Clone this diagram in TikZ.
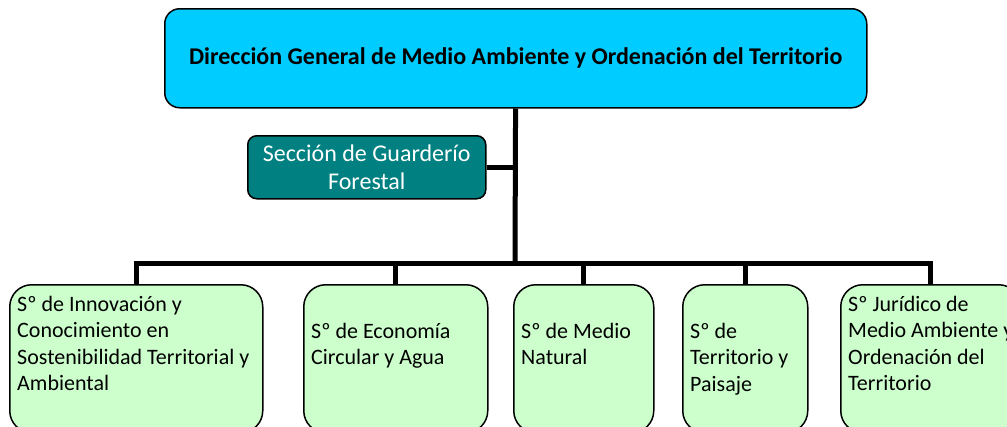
\documentclass[tikz,border=0pt]{standalone}
\usepackage{fontspec}
\setmainfont{Carlito}
\usepackage{xcolor}
\usetikzlibrary{positioning}
\definecolor{cldir}{HTML}{00CCFF}
\definecolor{clguard}{HTML}{008080}
\definecolor{clsec}{HTML}{CCFFCC}
\tikzstyle{dirblock} = [draw, line width=1.5pt, rectangle, rounded corners=15pt, fill=cldir, anchor=north west, minimum width=702pt, minimum height=99pt, font=\bfseries\fontsize{24}{28}\selectfont]
\tikzstyle{guardblock} = [draw, line width=1.5pt, rectangle, rounded corners=9pt, fill=clguard, text=white, anchor=north west, minimum width=238pt, minimum height=63pt, align=center, font=\fontsize{24}{28}\selectfont]
\tikzstyle{secblock} = [draw, line width=1.5pt, rectangle, rounded corners=22pt, fill=clsec, minimum height=148pt]
\tikzstyle{sectext} = [anchor=base west, align=left, inner sep=0pt, font=\fontsize{22}{26.5}\selectfont]
\tikzstyle{bar} = [draw, line width=5pt]

\begin{document}
\begin{tikzpicture}[x=1pt, y=-1pt]
    \useasboundingbox (0,0) rectangle (1007,426);
    \clip (0,0) rectangle (1007,426);

    \node [dirblock] (dg) at (164,8) {Dirección General de Medio Ambiente y Ordenación del Territorio};
    \node [guardblock] (guard) at (247,135) {Sección de Guarderío\\Forestal};
    \coordinate (hub) at (515,263);

    \node [secblock, anchor=north west, minimum width=253pt] (inno) at (9,284) {};
    \node [secblock, right=39.5pt of inno, minimum width=184pt] (eco) {};
    \node [secblock, right=24.5pt of eco, minimum width=140pt] (nat) {};
    \node [secblock, right=27.5pt of nat, minimum width=125pt] (terr) {};
    \node [secblock, right=31.5pt of terr, minimum width=180pt] (juri) {};

    % base = last line
    \node [sectext] (innotxt) at ([shift={(8,106.5)}]inno.north west) {Sº de Innovación y\\Conocimiento en\\Sostenibilidad Territorial y\\Ambiental};
    \node [sectext] (ecotxt) at ([shift={(8,80.5)}]eco.north west) {Sº de Economía\\Circular y Agua};
    \node [sectext] (nattxt) at ([shift={(8,80.5)}]nat.north west) {Sº de Medio\\Natural};
    \node [sectext] (terrtxt) at ([shift={(8,107)}]terr.north west) {Sº de\\Territorio y\\Paisaje};
    \node [sectext] (juritxt) at ([shift={(8,106.5)}]juri.north west) {Sº Jurídico de\\Medio Ambiente y\\Ordenación del\\Territorio};

    \path [bar] (dg) -- (hub);
    \path [bar] (guard) -- (guard -| hub);
    \path [bar] (inno.north) |- (hub) -| (juri.north);
    \path [bar] (eco) -- (eco |- hub);
    \path [bar] (nat) -- (nat |- hub);
    \path [bar] (terr) -- (terr |- hub);
\end{tikzpicture}
\end{document}
